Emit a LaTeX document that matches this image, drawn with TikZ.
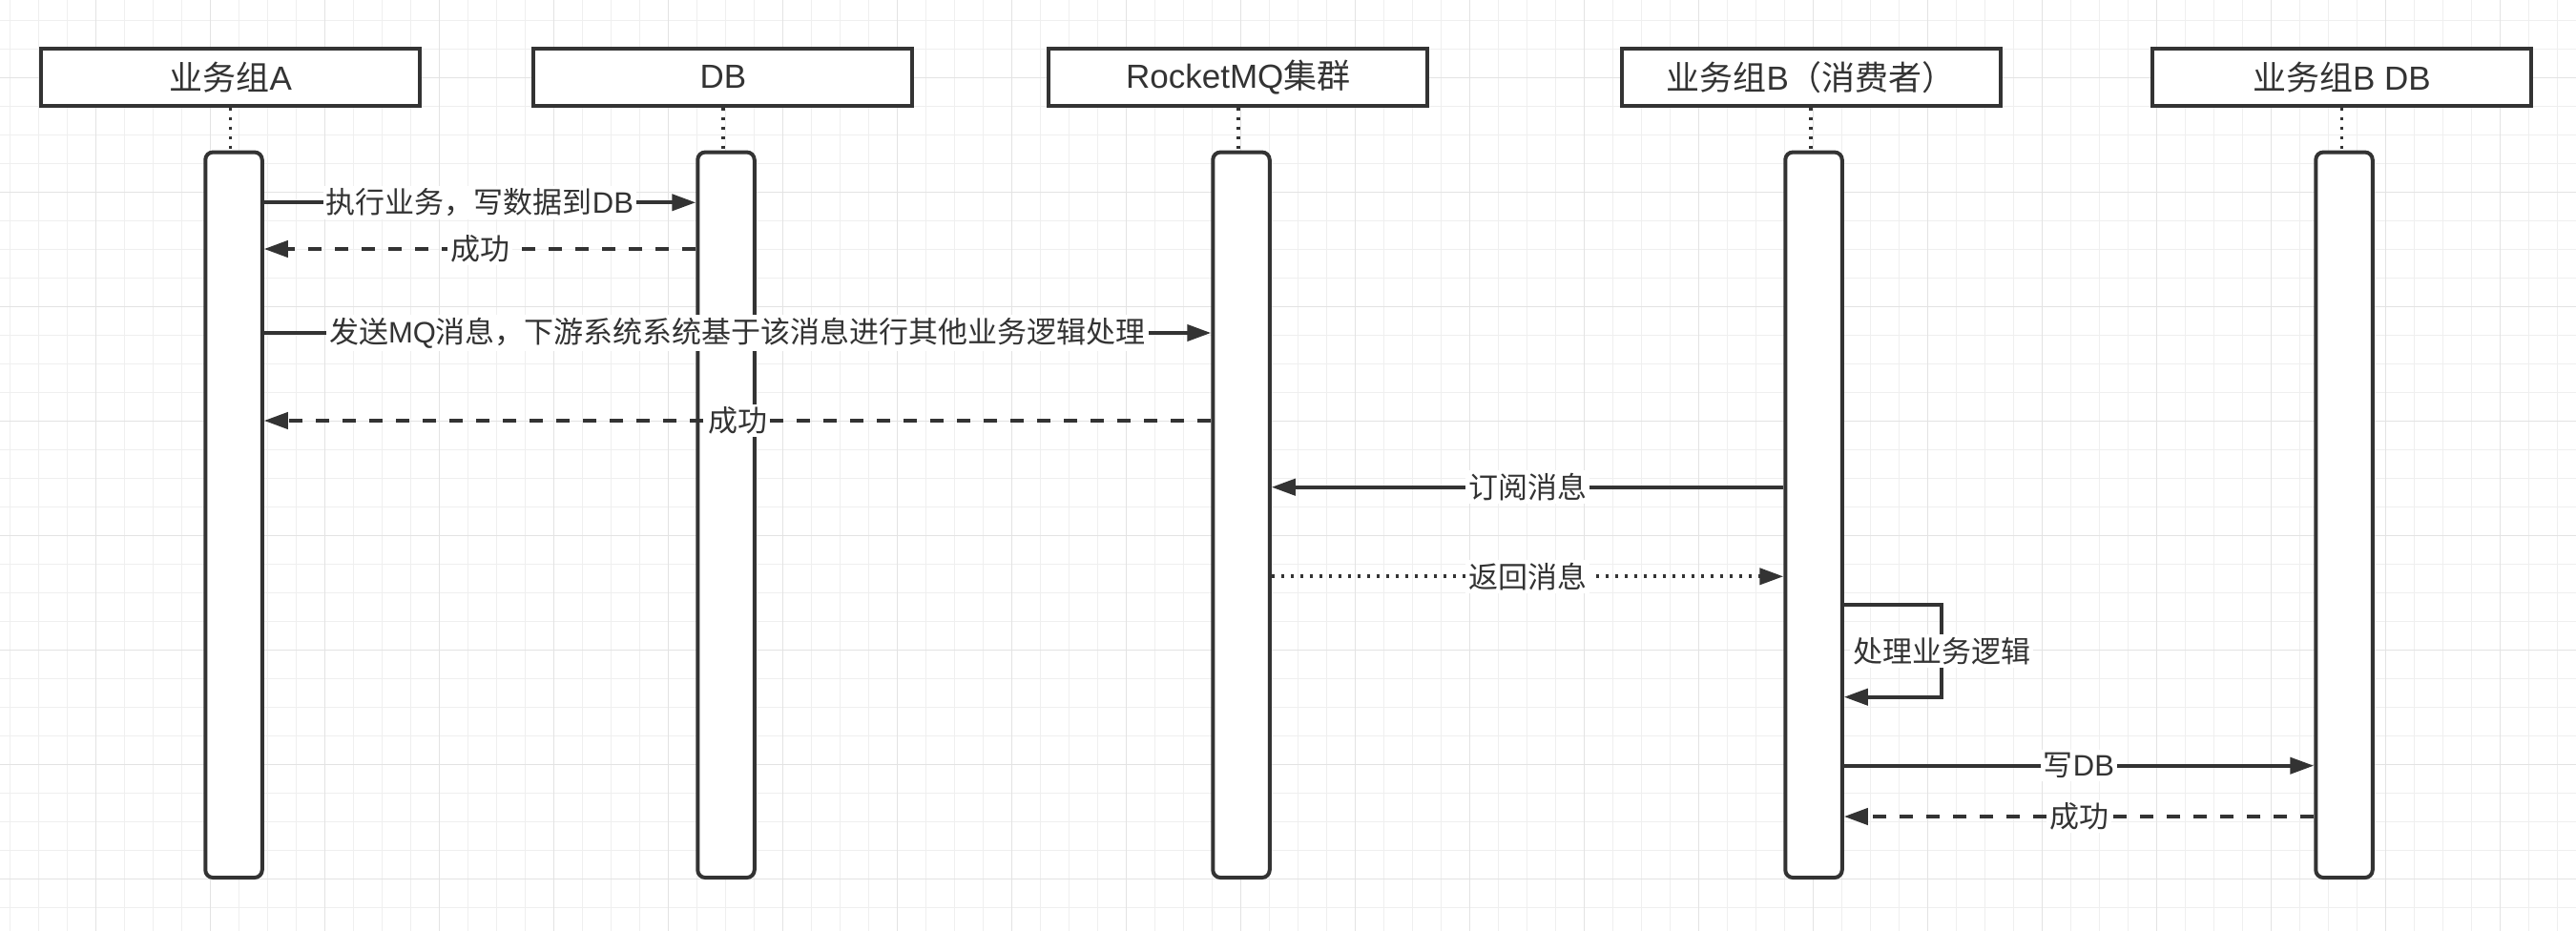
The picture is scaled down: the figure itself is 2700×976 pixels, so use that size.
\documentclass[tikz,border=0pt]{standalone}
\usepackage{fontspec}
\setmainfont{Liberation Sans}
\newfontfamily\cjk{Noto Sans CJK SC}
\usetikzlibrary{arrows.meta}
\definecolor{ink}{HTML}{333333}
\definecolor{gridminor}{HTML}{EFEFEF}
\definecolor{gridmajor}{HTML}{E3E3E3}
\begin{document}
\begin{tikzpicture}[x=1pt,y=-1pt,
  head/.style={draw=ink, line width=4pt, fill=white, minimum width=397pt, minimum height=59.5pt, inner sep=0pt, font=\fontsize{35}{40}\selectfont, text=ink},
  bar/.style={draw=ink, line width=4pt, fill=white, minimum width=59.5pt, minimum height=760.5pt, rounded corners=8pt, inner sep=0pt},
  life/.style={draw=ink, line width=3.5pt, dash pattern=on 3.5pt off 6.5pt},
  msg/.style={draw=ink, line width=4pt, -{Triangle[length=25pt,width=17pt]}},
  ret/.style={msg, dash pattern=on 14pt off 14pt},
  dotmsg/.style={msg, dash pattern=on 3.5pt off 6.5pt},
  lbl/.style={fill=white, text=ink, inner sep=3pt, font=\fontsize{31}{36}\selectfont},
  gminor/.style={draw=gridminor, line width=1.5pt},
  gmajor/.style={draw=gridmajor, line width=1.5pt}
]
\useasboundingbox (0,0) rectangle (2700,976);
\fill[white] (0,0) rectangle (2700,976);
% grid
\foreach \i in {0,...,89} {\draw[gminor] (10.5+30*\i,0) -- (10.5+30*\i,976);}
\foreach \i in {0,...,31} {\draw[gminor] (0,21.7+30*\i) -- (2700,21.7+30*\i);}
\foreach \i in {0,...,21} {\draw[gmajor] (100.5+120*\i,0) -- (100.5+120*\i,976);}
\foreach \i in {0,...,7} {\draw[gmajor] (0,81.7+120*\i) -- (2700,81.7+120*\i);}

% headers
\node[head] (hA) at (241.7,80.8) {{\cjk 业务组}A};
\node[head] (hD) at (757.8,80.8) {DB};
\node[head] (hM) at (1297.8,80.8) {RocketMQ{\cjk 集群}};
\node[head] (hB) at (1898.2,80.8) {{\cjk 业务组}B{\cjk （消费者）}};
\node[head] (hBD) at (2454.4,80.8) {{\cjk 业务组}B DB};

% activation bars
\node[bar] (bA) at (245,539.8) {};
\node[bar] (bD) at (761,539.8) {};
\node[bar] (bM) at (1301,539.8) {};
\node[bar] (bB) at (1901,539.8) {};
\node[bar] (bBD) at (2457,539.8) {};

% lifelines
\draw[life] (hA.south) -- (hA.south |- bA.north);
\draw[life] (hD.south) -- (hD.south |- bD.north);
\draw[life] (hM.south) -- (hM.south |- bM.north);
\draw[life] (hB.south) -- (hB.south |- bB.north);
\draw[life] (hBD.south) -- (hBD.south |- bBD.north);

% messages
\draw[msg] (bA.east |- 0,212.3) -- node[lbl] {{\cjk 执行业务，写数据到}DB} (bD.west |- 0,212.3);
\draw[ret] (bD.west |- 0,261) -- node[lbl] {\cjk 成功} (bA.east |- 0,261);
\draw[msg] (bA.east |- 0,349) -- node[lbl] {{\cjk 发送}MQ{\cjk 消息，下游系统系统基于该消息进行其他业务逻辑处理}} (bM.west |- 0,349);
\draw[ret] (bM.west |- 0,441) -- node[lbl] {\cjk 成功} (bA.east |- 0,441);
\draw[msg] (bB.west |- 0,510.7) -- node[lbl] {\cjk 订阅消息} (bM.east |- 0,510.7);
\draw[dotmsg] (bM.east |- 0,604.3) -- node[lbl] {\cjk 返回消息} (bB.west |- 0,604.3);

\coordinate (lp1) at (2035.4,634.3);
\coordinate (lp2) at (2035.4,730.7);
\draw[msg] (bB.east |- lp1) -- (lp1) -- node[lbl] {\cjk 处理业务逻辑} (lp2) -- (bB.east |- lp2);

\draw[msg] (bB.east |- 0,802.7) -- node[lbl] {{\cjk 写}DB} (bBD.west |- 0,802.7);
\draw[ret] (bBD.west |- 0,856) -- node[lbl] {\cjk 成功} (bB.east |- 0,856);
\end{tikzpicture}
\end{document}
